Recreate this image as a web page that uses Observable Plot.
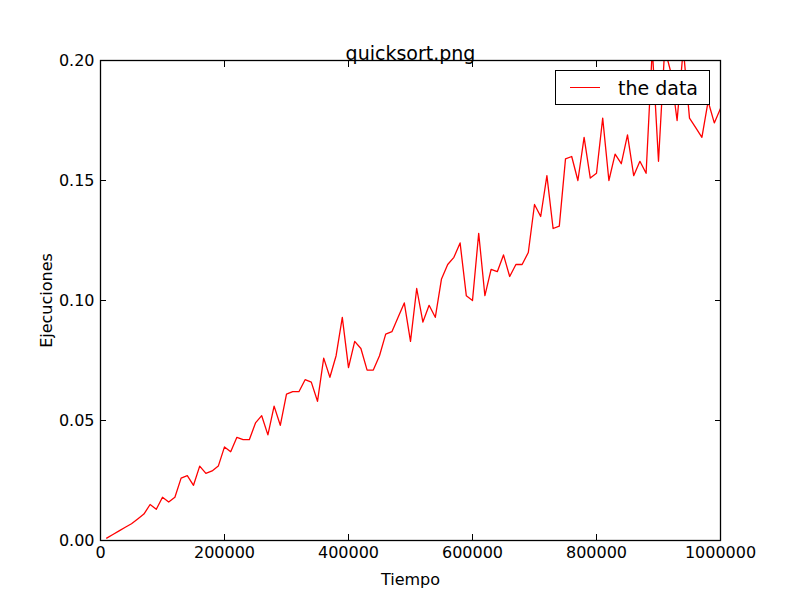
<!DOCTYPE html>
<html><head>
<script src="https://cdn.jsdelivr.net/npm/d3@7"></script>
<script src="https://cdn.jsdelivr.net/npm/@observablehq/plot@0.6"></script>
<style>body{margin:0;background:#fff;font-family:"DejaVu Sans";} #wrap{position:relative;width:800px;height:600px;}
#legend{position:absolute;left:555px;top:70px;width:153px;height:33px;border:1.5px solid #000;background:#fff;font-size:19px;display:flex;align-items:center;}
#legend span.l{display:inline-block;width:30px;border-top:1.5px solid red;margin:0 18px 0 14px;}</style>
</head><body><div id="wrap"><div id="legend"><span class="l"></span>the data</div></div>
<script>
const tiempo = d3.range(10000, 1000001, 10000);
const ejecuciones = [
0.001,0.0025,0.004,0.0055,0.007,0.009,0.011,0.015,0.013,0.018,
0.016,0.018,0.026,0.027,0.023,0.031,0.028,0.029,0.031,0.039,
0.037,0.043,0.042,0.042,0.049,0.052,0.044,0.056,0.048,0.061,
0.062,0.062,0.067,0.066,0.058,0.076,0.068,0.077,0.093,0.072,
0.083,0.080,0.071,0.071,0.077,0.086,0.087,0.093,0.099,0.083,
0.105,0.091,0.098,0.093,0.109,0.115,0.118,0.124,0.102,0.100,
0.128,0.102,0.113,0.112,0.119,0.110,0.115,0.115,0.120,0.140,
0.135,0.152,0.130,0.131,0.159,0.160,0.150,0.168,0.151,0.153,
0.176,0.150,0.161,0.157,0.169,0.152,0.158,0.153,0.205,0.158,
0.205,0.195,0.175,0.205,0.176,0.172,0.168,0.183,0.174,0.180];
const data = tiempo.map((t, i) => ({t, e: ejecuciones[i]}));
const xTicks = [0, 200000, 400000, 600000, 800000, 1000000];
const yTicks = [0, 0.05, 0.1, 0.15, 0.2];

const chart = Plot.plot({
  width: 800, height: 600,
  marginLeft: 100, marginRight: 80, marginTop: 60, marginBottom: 60,
  style: {fontFamily: "DejaVu Sans", fontSize: "16px", color: "black", background: "white"},
  x: {domain: [0, 1000000]},
  y: {domain: [0, 0.2]},
  marks: [
    Plot.line(data, {x: "t", y: "e", stroke: "red", strokeWidth: 1.3, clip: true}),
    Plot.frame({stroke: "black", strokeWidth: 1.3}),
    Plot.axisX({ticks: xTicks, tickSize: -6, tickPadding: 12, tickFormat: d => String(d), label: "Tiempo", labelAnchor: "center", labelArrow: "none", labelOffset: 44}),
    Plot.axisX({anchor: "top", ticks: xTicks, tickSize: -6, tickFormat: () => "", label: null}),
    Plot.axisY({ticks: yTicks, tickSize: -6, tickPadding: 12, tickFormat: d3.format(".2f"), label: "Ejecuciones", labelAnchor: "center", labelArrow: "none", labelOffset: 60}),
    Plot.axisY({anchor: "right", ticks: yTicks, tickSize: -6, tickFormat: () => "", label: null}),
    Plot.text(["quicksort.png"], {frameAnchor: "top", dy: -14, fontSize: 19, fill: "black"})
  ]
});
document.getElementById("wrap").prepend(chart);
</script></body></html>
